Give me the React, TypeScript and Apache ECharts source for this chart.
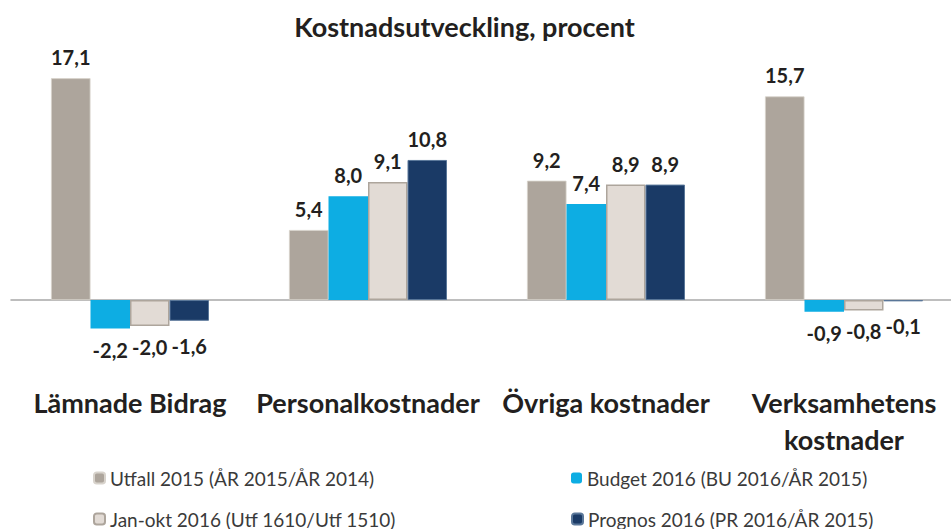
import React, { useEffect, useRef } from "react";
import * as echarts from "echarts";

const categories = ["Lämnade Bidrag", "Personalkostnader", "Övriga kostnader", "Verksamhetens\nkostnader"];
const seriesNames = [
  "Utfall 2015 (ÅR 2015/ÅR 2014)",
  "Budget 2016 (BU 2016/ÅR 2015)",
  "Jan-okt 2016 (Utf 1610/Utf 1510)",
  "Prognos 2016 (PR 2016/ÅR 2015)",
];
const utfall = [17.1, 5.4, 9.2, 15.7];
const budget = [-2.2, 8.0, 7.4, -0.9];
const janOkt = [-2.0, 9.1, 8.9, -0.8];
const prognos = [-1.6, 10.8, 8.9, -0.1];

const colors = ["#ADA59C", "#0DADE3", "#E2DBD5", "#1A3A66"];
const borders = ["#D8D3CC", "#0DADE3", "#ADA59C", "#5A7799"];
const borderWidths = [0.8, 0, 1.5, 1];
const negDistance = [11, 11, 11, 15];

const FONT = "Lato, 'Noto Sans', sans-serif";

export default function App() {
  const ref = useRef<HTMLDivElement>(null);
  useEffect(() => {
    if (!ref.current) return;
    const chart = echarts.init(ref.current, undefined, { renderer: "svg" });
    const all = [utfall, budget, janOkt, prognos];
    const fmt = (v: number) => v.toFixed(1).replace(".", ",");
    const series = all.map((vals, i) => ({
      name: seriesNames[i],
      type: "bar",
      barWidth: 39.5,
      barGap: "0%",
      itemStyle: { color: colors[i], borderColor: borders[i], borderWidth: borderWidths[i] },
      data: vals.map((v) => ({
        value: v,
        label: {
          show: true,
          position: v < 0 ? "bottom" : "top",
          distance: v < 0 ? negDistance[i] : 11,
          formatter: () => fmt(v),
          fontFamily: FONT,
          fontWeight: "bold",
          fontSize: 20,
          color: "#231F20",
        },
      })),
    }));
    const legendPos = [
      { left: 93, top: 467 },
      { left: 571, top: 467 },
      { left: 93, top: 508 },
      { left: 571, top: 508 },
    ];
    const legends = seriesNames.map((n, i) => ({
      left: legendPos[i].left,
      top: legendPos[i].top,
      itemWidth: 11,
      itemHeight: 11,
      itemGap: 0,
      padding: 0,
      data: [n],
      textStyle: { fontFamily: FONT, fontSize: 19, color: "#3A3A3A", lineHeight: 22 },
    }));
    chart.setOption({
      animation: false,
      title: {
        text: "Kostnadsutveckling, procent",
        left: 464.5,
        textAlign: "center",
        top: 13,
        padding: 0,
        textStyle: { fontFamily: FONT, fontWeight: "bold", fontSize: 27, color: "#231F20" },
      },
      legend: legends,
      grid: { left: 11, top: 40.6, right: 0, height: 324.3, containLabel: false },
      xAxis: {
        type: "category",
        data: categories,
        axisLine: { onZero: true, lineStyle: { color: "#A8A8A8", width: 1.5 } },
        axisTick: { show: false },
        axisLabel: {
          margin: 19,
          fontFamily: FONT,
          fontWeight: "bold",
          fontSize: 27,
          color: "#231F20",
          lineHeight: 37,
          interval: 0,
        },
      },
      yAxis: {
        type: "value",
        min: -5,
        max: 20,
        axisLabel: { show: false },
        axisLine: { show: false },
        axisTick: { show: false },
        splitLine: { show: false },
      },
      series,
    });
    return () => chart.dispose();
  }, []);
  return (
    <div style={{ position: "absolute", left: 0, top: 0, width: 951, height: 529, overflow: "hidden", background: "#fff" }}>
      <div ref={ref} style={{ position: "absolute", left: 0, top: 0, width: 963, height: 529 }} />
    </div>
  );
}
